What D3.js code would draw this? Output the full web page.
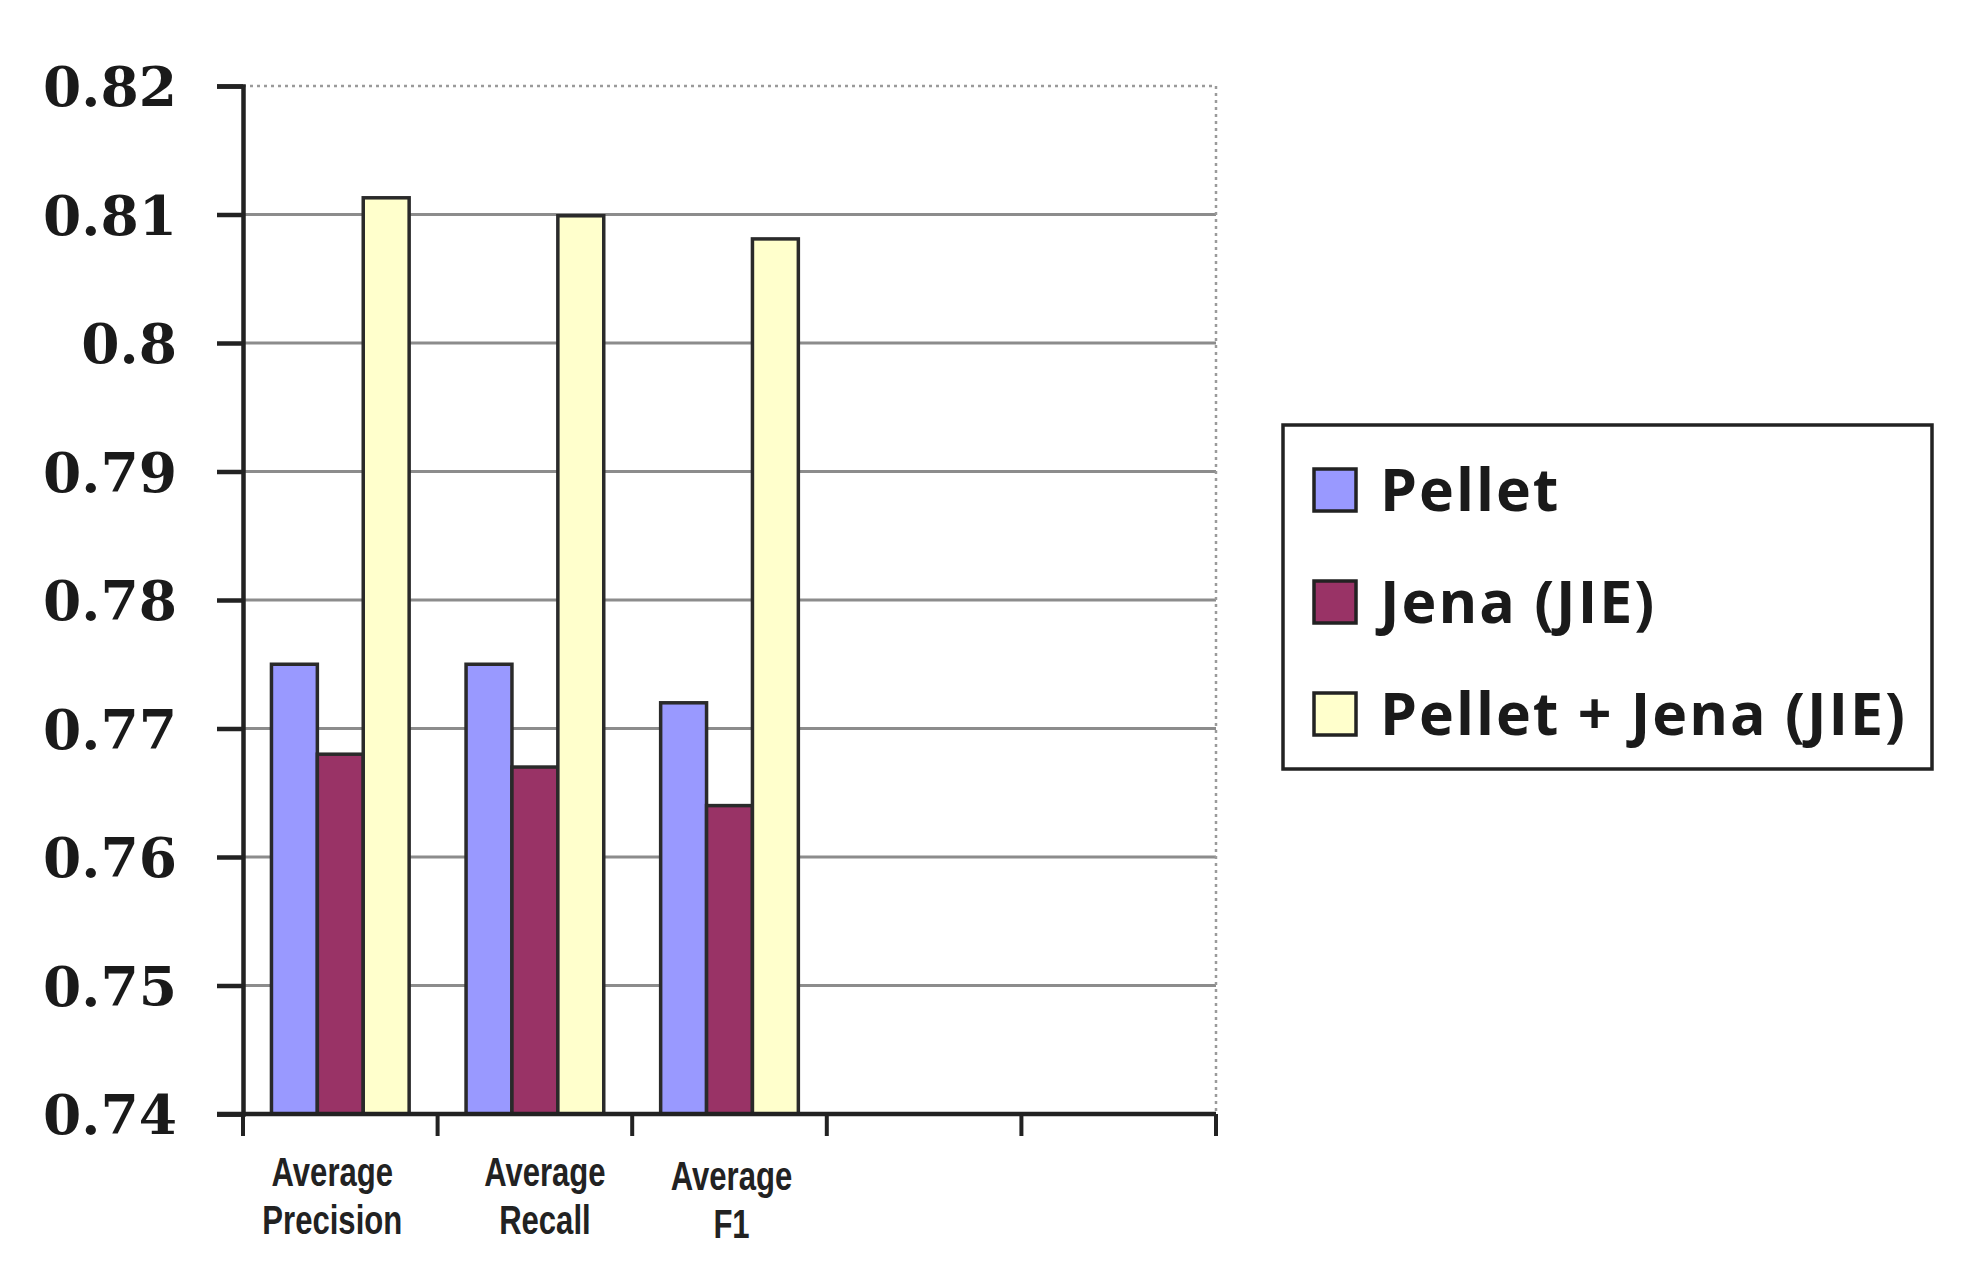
<!DOCTYPE html>
<html>
<head>
<meta charset="utf-8">
<script src="https://cdn.jsdelivr.net/npm/d3@7"></script>
<style>
  body { margin: 0; background: #fff; }
  svg { display: block; }
</style>
</head>
<body>
<svg id="chart" width="1976" height="1283"></svg>
<script>
// data
const categories = ["Average Precision", "Average Recall", "Average F1"];
const seriesNames = ["Pellet", "Jena (JIE)", "Pellet + Jena (JIE)"];
const pelletValues = [0.775, 0.775, 0.772];
const jenaValues = [0.768, 0.767, 0.764];
const combinedValues = [0.8113, 0.8099, 0.8081];
const yTicks = [0.74, 0.75, 0.76, 0.77, 0.78, 0.79, 0.80, 0.81, 0.82];
const slotCount = 5; // the category axis has two empty slots on the right
const colors = ["#9999ff", "#993366", "#ffffcc"];

const seriesValues = [pelletValues, jenaValues, combinedValues];

const svg = d3.select("#chart");
svg.append("rect").attr("width", 1976).attr("height", 1283).attr("fill", "#fff");

const plotLeft = 243, plotRight = 1216, plotTop = 86, plotBottom = 1114;

const y = d3.scaleLinear().domain([0.74, 0.82]).range([plotBottom, plotTop]);
const x = d3.scaleBand().domain(d3.range(slotCount)).range([plotLeft, plotRight]).padding(0);
const xSub = d3.scaleBand().domain(seriesNames).range([0, x.bandwidth()])
  .paddingInner(0).paddingOuter(0.62);

// grid lines
svg.append("g")
  .selectAll("line")
  .data(yTicks.filter(t => t > 0.74))
  .join("line")
  .attr("x1", plotLeft).attr("x2", plotRight)
  .attr("y1", d => y(d)).attr("y2", d => y(d))
  .attr("stroke", d => d === 0.82 ? "#9a9a9a" : "#8c8c8c")
  .attr("stroke-width", d => d === 0.82 ? 2.5 : 3)
  .attr("stroke-dasharray", d => d === 0.82 ? "3,4" : null);

// dotted right border of the plot area
svg.append("line")
  .attr("x1", plotRight).attr("x2", plotRight)
  .attr("y1", plotTop).attr("y2", plotBottom)
  .attr("stroke", "#9a9a9a")
  .attr("stroke-width", 2.5)
  .attr("stroke-dasharray", "3,4");

// bars
const groups = svg.append("g")
  .selectAll("g")
  .data(categories)
  .join("g")
  .attr("transform", (d, i) => `translate(${x(i)},0)`);

groups.selectAll("rect")
  .data((d, i) => seriesNames.map((s, k) => ({ series: s, value: seriesValues[k][i], k })))
  .join("rect")
  .attr("x", d => xSub(d.series))
  .attr("width", xSub.bandwidth())
  .attr("y", d => y(d.value))
  .attr("height", d => y(0.74) - y(d.value))
  .attr("fill", d => colors[d.k])
  .attr("stroke", "#2a2a2a")
  .attr("stroke-width", 3.5);

// y axis
const yAxis = svg.append("g")
  .attr("transform", `translate(${plotLeft},0)`)
  .call(d3.axisLeft(y)
    .tickValues(yTicks)
    .tickSize(26)
    .tickPadding(40)
    .tickFormat(d => String(+d.toFixed(2))));
yAxis.select(".domain").attr("stroke", "#222").attr("stroke-width", 4.5);
yAxis.selectAll(".tick line").attr("stroke", "#222").attr("stroke-width", 4.5);
yAxis.selectAll(".tick text")
  .attr("fill", "#1a1a1a")
  .attr("dy", "0.36em")
  .style("font-family", "'DejaVu Serif', serif")
  .style("font-weight", "bold")
  .style("font-size", "55px");

// x axis (slot edges as ticks)
const xAxis = svg.append("g");
xAxis.append("line")
  .attr("x1", plotLeft - 26).attr("x2", plotRight)
  .attr("y1", plotBottom).attr("y2", plotBottom)
  .attr("stroke", "#222").attr("stroke-width", 4.5);
xAxis.selectAll("line.tick")
  .data(d3.range(slotCount + 1))
  .join("line")
  .attr("class", "tick")
  .attr("x1", i => i < slotCount ? x(i) : plotRight)
  .attr("x2", i => i < slotCount ? x(i) : plotRight)
  .attr("y1", plotBottom).attr("y2", plotBottom + 22)
  .attr("stroke", "#222").attr("stroke-width", 4);

// labels are condensed in the original, so squeeze them horizontally
const labelShift = [-8, 10, 2];
const xLabels = svg.append("g")
  .selectAll("text")
  .data(categories)
  .join("text")
  .attr("transform", (d, i) =>
    `translate(${x(i) + x.bandwidth() / 2 + labelShift[i]},${1186 + (i === 2 ? 4 : 0)}) scale(0.84,1.08)`)
  .attr("text-anchor", "middle")
  .attr("fill", "#222")
  .style("font-family", "'Liberation Sans', Arial, sans-serif")
  .style("font-weight", "bold")
  .style("font-size", "37px");
xLabels.selectAll("tspan")
  .data(d => d.split(" "))
  .join("tspan")
  .attr("x", 0)
  .attr("dy", (d, i) => i === 0 ? 0 : 44)
  .text(d => d);

// legend
const legend = svg.append("g").attr("transform", "translate(1283,425)");
legend.append("rect")
  .attr("width", 649).attr("height", 344)
  .attr("fill", "#fff")
  .attr("stroke", "#222").attr("stroke-width", 3.5);
const items = legend.selectAll("g.item")
  .data(seriesNames)
  .join("g")
  .attr("class", "item")
  .attr("transform", (d, i) => `translate(31,${44 + i * 112})`);
items.append("rect")
  .attr("width", 42).attr("height", 42)
  .attr("fill", (d, i) => colors[i])
  .attr("stroke", "#222").attr("stroke-width", 3.5);
items.append("text")
  .attr("x", 66).attr("y", 21)
  .attr("dy", "0.36em")
  .attr("fill", "#1a1a1a")
  .style("font-family", "'Open Sans', sans-serif")
  .style("font-weight", "bold")
  .style("font-size", "59px")
  .style("letter-spacing", "2px")
  .text(d => d);
</script>
</body>
</html>
